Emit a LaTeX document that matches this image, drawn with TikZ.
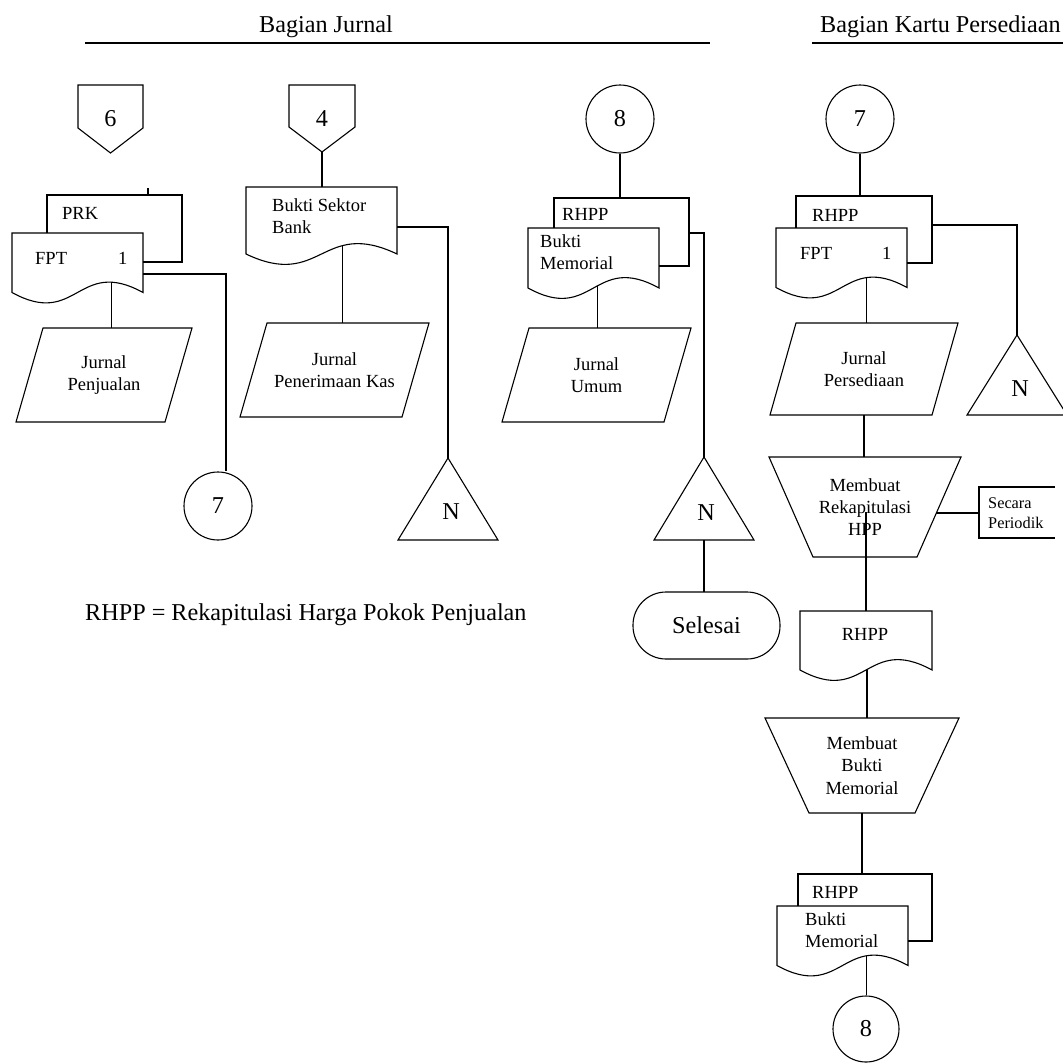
\documentclass[tikz,border=0pt]{standalone}
\usepackage{fontspec}
\setmainfont{Liberation Serif}
\usetikzlibrary{calc}
\newcommand\fsA{\fontsize{18.5}{22.3}\selectfont}
\newcommand\fsB{\fontsize{24.2}{28}\selectfont}
\newcommand\fsC{\fontsize{16.3}{20}\selectfont}
\tikzset{
  x=1pt,y=-1pt,
  ln/.style={line width=1.1pt, draw=black},
  box/.style 2 args={rectangle, inner sep=0pt, outer sep=0pt, minimum width=#1, minimum height=#2},
  circ/.style={circle, draw=black, line width=1.1pt, inner sep=0pt, font=\fsB},
  txt/.style={inner sep=0pt, font=\fsA, align=left, anchor=west},
  lbl/.style={inner sep=0pt, font=\fsB},
}
\newcommand\mkdoc[2]{\draw[ln] (#1.north west) -- (#1.south west) .. controls ($(#1.south)+(0,36)$) and ($(#1.south)+(0,-36)$) .. (#1.south east) coordinate[pos=#2] (#1-out) -- (#1.north east) -- cycle;}
\newcommand\mkback[2]{\draw[ln] (#1.west |- #2.north) -- (#1.north west) -- (#1.north east) -- (#1.south east) -- (#2.east |- #1.south);}
\newcommand\mkoff[1]{\draw[ln] (#1.north west) -- (#1.north east) -- ($(#1.south east)+(0,-25)$) -- (#1.south) -- ($(#1.south west)+(0,-25)$) -- cycle;}
\newcommand\mkpara[2]{\draw[ln] ($(#1.north west)+(#2,0)$) -- ($(#1.north east)+(#2,0)$) -- ($(#1.south east)-(#2,0)$) -- ($(#1.south west)-(#2,0)$) -- cycle;}
\newcommand\mkmanop[2]{\draw[ln] (#1.north west) -- (#1.north east) -- ($(#1.south east)-(#2,0)$) -- ($(#1.south west)+(#2,0)$) -- cycle;}
\newcommand\mktri[1]{\draw[ln] (#1.north) -- (#1.south east) -- (#1.south west) -- cycle;}
\begin{document}
\begin{tikzpicture}
\useasboundingbox (0,0) rectangle (1063,1063);
\clip (0,0) rectangle (1063,1063);
\fill[white] (0,0) rectangle (1063,1063);

% titles
\node[lbl, anchor=base] (t1) at (326,32) {Bagian Jurnal};
\node[lbl, anchor=base west] (t2) at (820,32) {Bagian Kartu Persediaan};
\coordinate (h1a) at (85,43); \coordinate (h1b) at (710,43);
\coordinate (h2a) at (812,43); \coordinate (h2b) at (1063,43);
\draw[ln, line width=1.6pt] (h1a) -- (h1b);
\draw[ln, line width=1.6pt] (h2a) -- (h2b);

% ---------- column 1
\node[box={65pt}{68pt}, font=\fsB] (off6) at (110.5,119) {6};
\mkoff{off6}
\node[box={135pt}{67pt}] (prk) at (114.5,228.5) {};
\node[box={131pt}{59.5pt}] (fpt1) at (77.5,262.75) {};
\mkback{prk}{fpt1}
\mkdoc{fpt1}{0.81}
\node[txt] (prkt) at (62,213) {PRK};
\node[txt] (fpt1t) at (35,258) {FPT};
\node[txt] (fpt1n) at (118,258) {1};
\coordinate (tick) at (148,195);
\draw[ln] (tick) -- ++(0,-7);
\node[circ, minimum size=68pt] (c7a) at (218,506) {7};
\coordinate (b1) at (226,274);
\draw[ln] (fpt1.east |- b1) -- (b1) -- (b1 |- c7a.north);
\node[box={149pt}{94pt}, font=\fsA, align=center] (jp) at (104,375) {Jurnal\\Penjualan};
\mkpara{jp}{13.5}
\draw[ln] (fpt1-out) -- (fpt1-out |- jp.north);

% ---------- column 2
\node[box={66pt}{67pt}, font=\fsB] (off4) at (322,118.5) {4};
\mkoff{off4}
\node[box={151pt}{67pt}] (bsb) at (321.5,220.5) {};
\mkdoc{bsb}{0.68}
\node[txt] (bsbt) at (272,216) {Bukti Sektor\\Bank};
\draw[ln] (off4.south) -- (off4.south |- bsb.north);
\node[box={100pt}{82pt}] (nb) at (448,499) {};
\mktri{nb}
\node[lbl] (nbt) at (451,512) {N};
\coordinate (b2) at (448,227);
\draw[ln] (bsb.east |- b2) -- (b2) -- (nb.north);
\node[box={162pt}{94pt}, font=\fsA, align=center] (jpk) at (334.5,370) {Jurnal\\Penerimaan Kas};
\mkpara{jpk}{13.5}
\draw[ln] (bsb-out) -- (bsb-out |- jpk.north);

% ---------- column 3
\node[circ, minimum size=68pt] (c8a) at (620,119) {8};
\node[box={135pt}{68pt}] (rh3) at (621.5,232) {};
\node[box={131pt}{60pt}] (bm3) at (593.5,258) {};
\mkback{rh3}{bm3}
\mkdoc{bm3}{0.537}
\node[txt] (rh3t) at (562,214) {RHPP};
\node[txt] (bm3t) at (540,252) {Bukti\\Memorial};
\draw[ln] (c8a.south) -- (c8a.south |- rh3.north);
\node[box={100pt}{83pt}] (n3) at (704,498.5) {};
\mktri{n3}
\node[lbl] (n3t) at (706,513) {N};
\coordinate (b3) at (704,233);
\draw[ln] (rh3.east |- b3) -- (b3) -- (n3.north);
\node[box={147pt}{67pt}, draw=black, line width=1.1pt, rounded corners=33pt, font=\fsB] (sel) at (706.5,625.5) {Selesai};
\draw[ln] (n3.south) -- (n3.south |- sel.north);
\node[box={162pt}{94pt}, font=\fsA, align=center] (ju) at (596.5,375) {Jurnal\\Umum};
\mkpara{ju}{13.5}
\draw[ln] (bm3-out) -- (bm3-out |- ju.north);

\node[lbl, anchor=base west] (note) at (85,620) {RHPP = Rekapitulasi Harga Pokok Penjualan};

% ---------- column 4
\node[circ, minimum size=68pt] (c7b) at (860,119) {7};
\node[box={136pt}{67pt}] (rh4) at (864,229.5) {};
\node[box={131pt}{59.5pt}] (fpt4) at (841.5,257.75) {};
\mkback{rh4}{fpt4}
\mkdoc{fpt4}{0.74}
\node[txt] (rh4t) at (812,215) {RHPP};
\node[txt] (fpt4t) at (800,253) {FPT};
\node[txt] (fpt4n) at (882,253) {1};
\draw[ln] (c7b.south) -- (c7b.south |- rh4.north);
\node[box={100pt}{80pt}] (n4) at (1017,375) {};
\mktri{n4}
\node[lbl] (n4t) at (1020,389) {N};
\coordinate (b4) at (1017,225);
\draw[ln] (rh4.east |- b4) -- (b4) -- (n4.north);
\node[box={162pt}{92pt}, font=\fsA, align=center] (jps) at (864,369) {Jurnal\\Persediaan};
\mkpara{jps}{13}
\draw[ln] (fpt4-out) -- (fpt4-out |- jps.north);
\node[box={192pt}{100pt}, font=\fsA, align=center] (mr) at (865,507) {Membuat\\Rekapitulasi\\HPP};
\mkmanop{mr}{44}
\draw[ln] (jps.south) -- (jps.south |- mr.north);
\coordinate (mrin) at (866,512);
\node[box={132pt}{59pt}] (rs) at (866,640.5) {};
\mkdoc{rs}{0.51}
\node[lbl, font=\fsA] (rst) at (865,634) {RHPP};
\draw[ln] (mrin) -- (mrin |- rs.north);
\node[box={76pt}{51pt}] (sp) at (1017,512.5) {};
\draw[ln] (sp.north east) -- (sp.north west) -- (sp.south west) -- (sp.south east);
\node[txt, font=\fsC] (spt) at (988,513) {Secara\\Periodik};
\coordinate (mrBR) at ($(mr.south east)-(44,0)$);
\coordinate (mrR) at ($(mr.north east)!0.56!(mrBR)$);
\draw[ln] (mrR) -- (mrR -| sp.west);
\node[box={194pt}{95pt}, font=\fsA, align=center] (mb) at (862,765.5) {Membuat\\Bukti\\Memorial};
\mkmanop{mb}{44}
\draw[ln] (rs-out) -- (rs-out |- mb.north);
\node[box={134pt}{67pt}] (rb) at (865,907.5) {};
\node[box={131pt}{59.5pt}] (bmb) at (842.5,935.75) {};
\mkback{rb}{bmb}
\mkdoc{bmb}{0.725}
\node[txt] (rbt) at (812,892) {RHPP};
\node[txt] (bmbt) at (805,930) {Bukti\\Memorial};
\draw[ln] (mb.south) -- (mb.south |- rb.north);
\node[circ, minimum size=66pt] (c8b) at (866,1029) {8};
\draw[ln] (bmb-out) -- (bmb-out |- c8b.north);
\end{tikzpicture}
\end{document}
